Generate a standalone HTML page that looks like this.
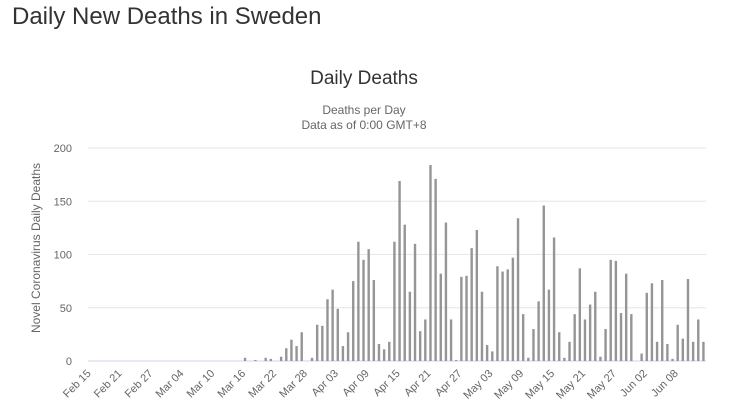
<!DOCTYPE html>
<html><head><meta charset="utf-8"><style>
body{margin:0;background:#fff;font-family:"Liberation Sans",sans-serif;}
#wrap{position:relative;width:743px;height:419px;overflow:hidden;}
h1{position:absolute;left:12px;top:3px;margin:0;font-weight:normal;font-size:24px;color:#333;}
</style></head><body>
<div id="wrap">
<h1>Daily New Deaths in Sweden</h1>
<svg id="chart" width="743" height="419" style="position:absolute;left:0;top:0">
<text x="364" y="84" text-anchor="middle" font-size="19" fill="#333">Daily Deaths</text>
<text x="364" y="114" text-anchor="middle" font-size="12" fill="#666">Deaths per Day</text>
<text x="364" y="129" text-anchor="middle" font-size="12" fill="#666">Data as of 0:00 GMT+8</text>
<text transform="translate(40,248) rotate(-90)" text-anchor="middle" font-size="12" fill="#666">Novel Coronavirus Daily Deaths</text>
<g id="grid"></g><g id="bars"></g><g id="xlabels"></g>
</svg>
</div>
<script>
const yTicks=[0,50,100,150,200];
const startDate=[2020,1,15];
const values=[0,0,0,0,0,0,0,0,0,0,0,0,0,0,0,0,0,0,0,0,0,0,0,0,0,0,0,0,0,0,
3,0,1,0,3,2,0,4,12,20,14,27,0,3,34,33,58,67,49,14,27,75,112,95,105,76,16,11,18,112,
169,128,65,110,28,39,184,171,82,130,39,1,79,80,106,123,65,15,9,89,84,86,97,134,44,3,30,56,146,67,
116,27,3,18,44,87,39,53,65,4,30,95,94,45,82,44,0,7,64,73,18,76,16,2,34,21,77,18,39,18];
const x0=88,x1=706,y0=361,yTop=148,yMax=200;
const n=values.length,step=(x1-x0)/n;
const xs=i=>x0+step*(i+0.5);
const ys=v=>y0-(v/yMax)*(y0-yTop);
const NS="http://www.w3.org/2000/svg";
const grid=document.getElementById('grid'),bars=document.getElementById('bars'),xl=document.getElementById('xlabels');
yTicks.forEach(t=>{
 const l=document.createElementNS(NS,'line');
 l.setAttribute('x1',x0);l.setAttribute('x2',x1);l.setAttribute('y1',ys(t));l.setAttribute('y2',ys(t));
 l.setAttribute('stroke',t===0?'#ccd6eb':'#e6e6e6');l.setAttribute('stroke-width','1');
 
 
 grid.appendChild(l);
 const tx=document.createElementNS(NS,'text');
 tx.setAttribute('x',72);tx.setAttribute('y',ys(t)+4);tx.setAttribute('text-anchor','end');
 tx.setAttribute('font-size','11');tx.setAttribute('fill','#666');tx.textContent=t;
 
 
 grid.appendChild(tx);
});
values.forEach((v,i)=>{
 if(v<=0)return;
 const r=document.createElementNS(NS,'rect');
 r.setAttribute('x',xs(i)-1.2);r.setAttribute('width',2.4);
 r.setAttribute('y',ys(v));r.setAttribute('height',y0-ys(v));r.setAttribute('fill','#959595');
 
 
 bars.appendChild(r);
});
const mon=['Jan','Feb','Mar','Apr','May','Jun','Jul'];
for(let i=0;i<n;i+=6){
 const d=new Date(startDate[0],startDate[1],startDate[2]+i);
 const lab=mon[d.getMonth()]+' '+String(d.getDate()).padStart(2,'0');
 const x=xs(i)+1,y=y0+13;
 const t=document.createElementNS(NS,'text');
 t.setAttribute('transform','translate('+x+','+y+') rotate(-45)');
 t.setAttribute('text-anchor','end');t.setAttribute('font-size','11');t.setAttribute('fill','#666');
 t.textContent=lab;
 
 
 xl.appendChild(t);
}
</script>
</body></html>
